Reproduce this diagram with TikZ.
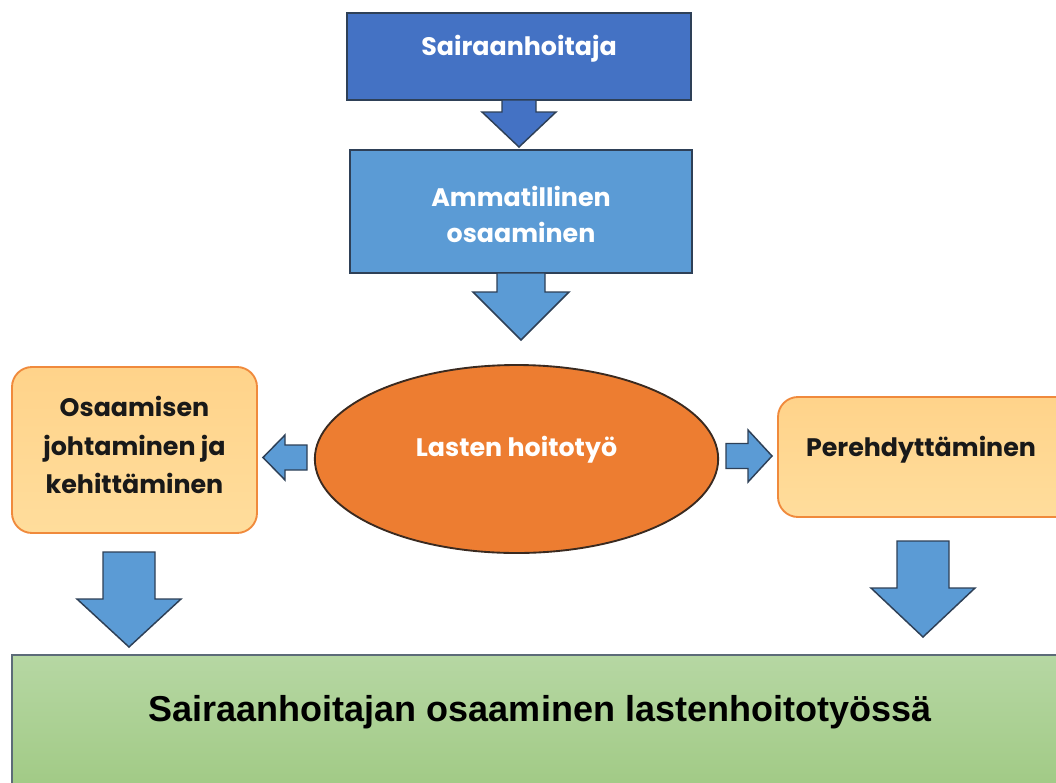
\documentclass[tikz,border=0pt]{standalone}
\usepackage{fontspec}
\setmainfont{Liberation Sans}
\newfontfamily\popfont{Poppins}
\usetikzlibrary{shapes.geometric}

\definecolor{darkblue}{HTML}{4472C4}
\definecolor{midblue}{HTML}{5B9BD5}
\definecolor{edgeblue}{HTML}{2E4057}
\definecolor{orangefill}{HTML}{ED7D31}
\definecolor{ellipseedge}{HTML}{3A2A20}
\definecolor{peachtop}{HTML}{FFD38A}
\definecolor{peachbot}{HTML}{FFDD9C}
\definecolor{peachedge}{HTML}{F08A3C}
\definecolor{greentop}{HTML}{B6D7A3}
\definecolor{greenbot}{HTML}{9CC77E}
\definecolor{greenedge}{HTML}{5C6B78}

\tikzset{
  bluebox/.style={draw=edgeblue, line width=1.4pt},
  peachbox/.style={draw=peachedge, line width=1.4pt, rounded corners=15pt,
    top color=peachtop, bottom color=peachbot},
  whitelabel/.style={text=white, font=\popfont\bfseries\fontsize{19}{27}\selectfont, align=center},
  darklabel/.style={text=black!90, font=\popfont\bfseries\fontsize{19}{29}\selectfont, align=center},
  blockarrow/.style={draw=edgeblue, line width=1.1pt, line join=miter},
}

% block arrow pointing down: centre x, top y, head y, tip y, shaft half width, head half width
\newcommand\downblock[7]{%
  \draw[blockarrow, fill=#7] ({#1-#5},#2) -- ({#1+#5},#2) -- ({#1+#5},#3) -- ({#1+#6},#3)
    -- (#1,#4) -- ({#1-#6},#3) -- ({#1-#5},#3) -- cycle;}
% block arrow pointing sideways: centre y, tail x, head x, tip x, shaft half width, head half width
\newcommand\sideblock[7]{%
  \draw[blockarrow, fill=#7] (#2,{#1-#5}) -- (#3,{#1-#5}) -- (#3,{#1-#6}) -- (#4,#1)
    -- (#3,{#1+#6}) -- (#3,{#1+#5}) -- (#2,{#1+#5}) -- cycle;}

\begin{document}
\begin{tikzpicture}[x=0.75pt, y=-0.75pt]
\clip (0,0) rectangle (1056,782);
\fill[white] (0,0) rectangle (1056,782);

% top chain
\draw[bluebox, fill=darkblue] (347,13) rectangle (691,100);
\node[whitelabel] (nurse) at (519,49) {Sairaanhoitaja};
\downblock{519}{100}{112}{147}{17}{37}{darkblue}

\draw[bluebox, fill=midblue] (350,150) rectangle (692,273);
\node[whitelabel] (prof) at (521,214) {Ammatillinen\\osaaminen};
\downblock{521}{273}{292}{340}{24}{48}{midblue}

% centre ellipse
\node[ellipse, draw=ellipseedge, line width=1.4pt, fill=orangefill,
  minimum width=302.5pt, minimum height=141pt] (child) at (516.5,459) {};
\node[whitelabel] (childlbl) at (516.5,450) {Lasten hoitotyö};

% side boxes
\draw[peachbox] (12,367) rectangle (257,533);
\node[darklabel] (lead) at (134.5,445) {Osaamisen\\johtaminen ja\\kehittäminen};
\draw[peachbox] (778,397) rectangle (1080,517);
\node[darklabel] (intro) at (921,450) {Perehdyttäminen};

\sideblock{457.5}{307}{285}{263}{12.5}{22.5}{midblue}
\sideblock{456}{726}{748}{772}{12.5}{26}{midblue}

% lower arrows
\downblock{129}{552}{599}{647}{26}{52}{midblue}
\downblock{923}{541}{588}{637}{26}{52}{midblue}

% bottom result box
\draw[draw=greenedge, line width=1.2pt, top color=greentop, bottom color=greenbot]
  (12,655) rectangle (1080,820);
\node[font=\bfseries\fontsize{27}{32}\selectfont, text=black] (result) at (540,712)
  {Sairaanhoitajan osaaminen lastenhoitotyössä};
\end{tikzpicture}
\end{document}
